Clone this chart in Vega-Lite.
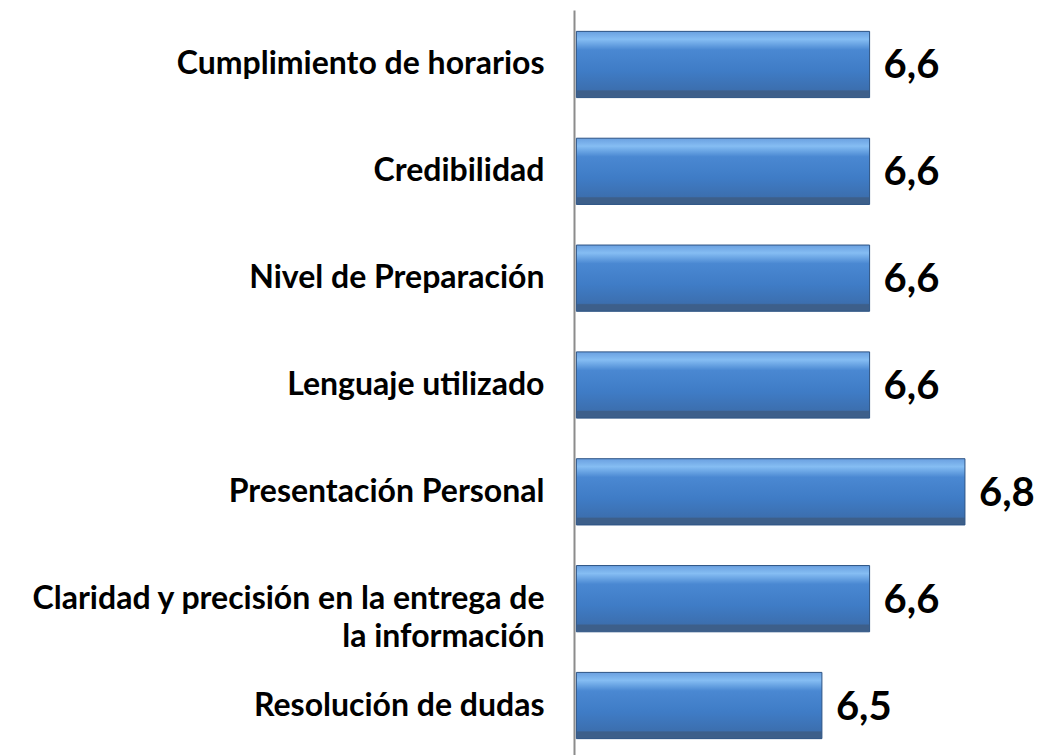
{
  "$schema": "https://vega.github.io/schema/vega-lite/v6.json",
  "autosize": "none",
  "width": 472,
  "height": 750,
  "padding": {"left": 574, "top": 10, "right": 0, "bottom": 0},
  "background": "white",
  "config": {
    "view": {"stroke": null},
    "locale": {"number": {"decimal": ",", "thousands": ".", "grouping": [3], "currency": ["", " €"]}}
  },
  "data": {
    "values": [
      {"item": "Cumplimiento de horarios", "nota": 6.6},
      {"item": "Credibilidad", "nota": 6.6},
      {"item": "Nivel de Preparación", "nota": 6.6},
      {"item": "Lenguaje utilizado", "nota": 6.6},
      {"item": "Presentación Personal", "nota": 6.8},
      {"item": "Claridad y precisión en la entrega de la información", "nota": 6.6},
      {"item": "Resolución de dudas", "nota": 6.5}
    ]
  },
  "encoding": {
    "y": {
      "field": "item",
      "type": "nominal",
      "sort": null,
      "scale": {"paddingInner": 0.38, "paddingOuter": 0.2},
      "axis": {
        "title": null,
        "domain": true,
        "domainColor": "#8c8c8c",
        "domainWidth": 2,
        "ticks": false,
        "labelPadding": 30,
        "labelFont": "Lato",
        "labelFontWeight": "bold",
        "labelFontSize": 32,
        "labelColor": "#000000",
        "labelLimit": 700,
        "labelLineHeight": 38,
        "labelExpr": "datum.label == 'Claridad y precisión en la entrega de la información' ? ['Claridad y precisión en la entrega de', 'la información\u2003\u2003\u2003\u2003\u2003\u2003'] : datum.label"
      }
    }
  },
  "layer": [
    {
      "mark": {
        "type": "bar",
        "stroke": "#2c5384",
        "strokeWidth": 1,
        "fill": {
          "gradient": "linear",
          "x1": 0, "y1": 0, "x2": 0, "y2": 1,
          "stops": [
            {"offset": 0, "color": "#6aa0e0"},
            {"offset": 0.12, "color": "#85bdf3"},
            {"offset": 0.28, "color": "#4a88d2"},
            {"offset": 0.6, "color": "#3f7cc6"},
            {"offset": 0.88, "color": "#3c6faf"},
            {"offset": 0.9, "color": "#3d5f8a"},
            {"offset": 1, "color": "#3d5f8a"}
          ]
        }
      },
      "encoding": {
        "x": {
          "field": "nota",
          "type": "quantitative",
          "scale": {"domain": [5.98, 6.97], "zero": false, "nice": false},
          "axis": null
        },
        "x2": {"datum": 5.985}
      }
    },
    {
      "mark": {
        "type": "text",
        "align": "left",
        "baseline": "middle",
        "dx": 14,
        "dy": 2,
        "font": "Lato",
        "fontWeight": "bold",
        "fontSize": 40,
        "color": "#000000"
      },
      "encoding": {
        "x": {"field": "nota", "type": "quantitative", "scale": {"domain": [5.98, 6.97], "zero": false, "nice": false}},
        "text": {"field": "nota", "type": "quantitative", "format": ".1f"}
      }
    }
  ]
}
